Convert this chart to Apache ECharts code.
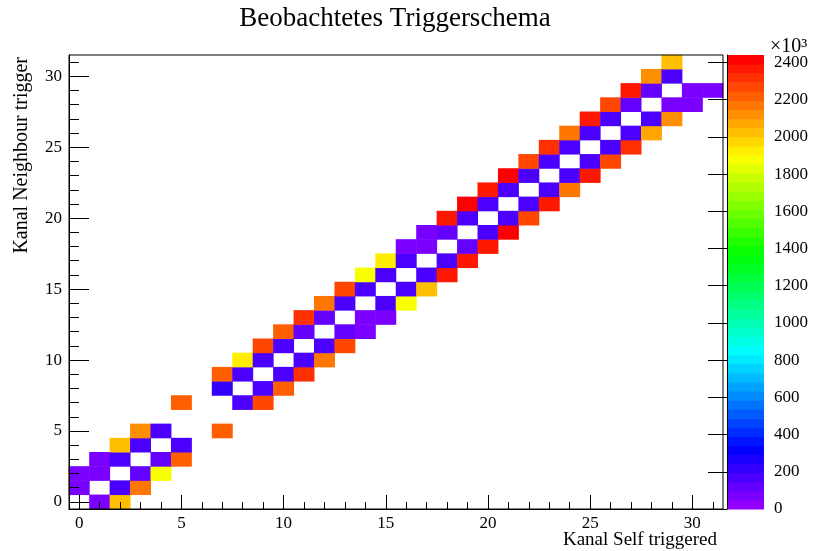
<!DOCTYPE html>
<html><head><meta charset="utf-8">
<script src="https://cdn.jsdelivr.net/npm/echarts@6/dist/echarts.min.js"></script>
<style>html,body{margin:0;padding:0;background:#fff}#c{width:813px;height:551px}</style>
</head><body><div id="c"></div>
<script>
// ---- data ----
const xCategories = ['0','1','2','3','4','5','6','7','8','9','10','11','12','13','14','15','16','17','18','19','20','21','22','23','24','25','26','27','28','29','30','31'];
const yCategories = ['0','1','2','3','4','5','6','7','8','9','10','11','12','13','14','15','16','17','18','19','20','21','22','23','24','25','26','27','28','29','30','31'];
const xTickLabels = ['0','5','10','15','20','25','30'];
const yTickLabels = ['0','5','10','15','20','25','30'];
const zTickValues = [0,200,400,600,800,1000,1200,1400,1600,1800,2000,2200,2400];
const zMax = 2440;
// [Kanal Self triggered, Kanal Neighbour trigger, counts (x10^3)]
const cells = [
  [1,0,73],[2,0,2025],
  [0,1,73],[2,1,150],[3,1,2150],
  [0,2,73],[1,2,73],[3,2,110],[4,2,1880],
  [1,3,73],[2,3,171],[4,3,120],[5,3,2230],
  [2,4,2025],[3,4,190],[5,4,190],
  [3,5,2123],[4,5,190],[7,5,2230],
  [5,7,2230],[8,7,190],[9,7,2270],
  [7,8,220],[9,8,190],[10,8,2230],
  [7,9,2230],[8,9,190],[10,9,190],[11,9,2318],
  [8,10,1928],[9,10,190],[11,10,190],[12,10,2172],
  [9,11,2260],[10,11,190],[12,11,190],[13,11,2260],
  [10,12,2230],[11,12,120],[13,12,120],[14,12,73],
  [11,13,2330],[12,13,120],[14,13,73],[15,13,73],
  [12,14,2172],[13,14,190],[15,14,190],[16,14,1880],
  [13,15,2260],[14,15,190],[16,15,190],[17,15,2025],
  [14,16,1880],[15,16,190],[17,16,190],[18,16,2390],
  [15,17,1950],[16,17,190],[18,17,190],[19,17,2370],
  [16,18,73],[17,18,73],[19,18,120],[20,18,2390],
  [17,19,73],[18,19,120],[20,19,190],[21,19,2420],
  [18,20,2360],[19,20,190],[21,20,190],[22,20,2290],
  [19,21,2420],[20,21,190],[22,21,190],[23,21,2350],
  [20,22,2390],[21,22,190],[23,22,190],[24,22,2180],
  [21,23,2420],[22,23,190],[24,23,190],[25,23,2390],
  [22,24,2290],[23,24,190],[25,24,190],[26,24,2260],
  [23,25,2330],[24,25,190],[26,25,190],[27,25,2330],
  [24,26,2180],[25,26,190],[27,26,190],[28,26,2070],
  [25,27,2370],[26,27,190],[28,27,190],[29,27,2120],
  [26,28,2290],[27,28,120],[29,28,73],[30,28,73],
  [27,29,2350],[28,29,120],[30,29,73],[31,29,73],
  [28,30,2120],[29,30,190],
  [29,31,2025]
];

// ---- style: ROOT "pretty" palette, 50 levels violet -> red ----
const NLEV = 50;
function hueToHex(h){
  let r,g,b;
  if(h<60){r=1;g=h/60;b=0;}else if(h<120){r=(120-h)/60;g=1;b=0;}
  else if(h<180){r=0;g=1;b=(h-120)/60;}else if(h<240){r=0;g=(240-h)/60;b=1;}
  else{r=(h-240)/60;g=0;b=1;}
  const f=v=>Math.round(v*255).toString(16).padStart(2,'0');
  return '#'+f(r)+f(g)+f(b);
}
const palette = [];
for(let k=0;k<NLEV;k++) palette.push(hueToHex(280-(k+1)*280/NLEV));
const lw = zMax/NLEV;
const pieces = palette.map((c,k)=> k<NLEV-1 ? {gte:k*lw, lt:(k+1)*lw, color:c} : {gte:k*lw, color:c});
const bands = palette.map((c,k)=>[k*lw,(k+1)*lw,k]);

const FONT = '"Liberation Serif", "DejaVu Serif", serif';
const black = '#000';
const chart = echarts.init(document.getElementById('c'), null, {renderer:'canvas'});
chart.setOption({
  animation:false,
  backgroundColor:'#fff',
  grid:[
    {left:69, top:55, width:654, height:454, show:true, borderColor:black, borderWidth:1, backgroundColor:'transparent', z:10},
    {left:727, top:55, width:37, height:454}
  ],
  xAxis:[
    {gridIndex:0, type:'category', data:xCategories, position:'bottom', z:10,
     axisLine:{lineStyle:{color:black,width:1}},
     axisTick:{show:true, alignWithLabel:true, inside:true, length:7, interval:0, lineStyle:{color:black}},
     axisLabel:{interval:(i,v)=>xTickLabels.indexOf(v)>=0, fontFamily:FONT, fontSize:17, color:black, margin:6},
     splitLine:{show:false}},
    {gridIndex:0, type:'category', data:xCategories, position:'bottom', z:10,
     axisLine:{show:false},
     axisTick:{show:true, alignWithLabel:true, inside:true, length:14, interval:(i,v)=>xTickLabels.indexOf(v)>=0, lineStyle:{color:black}},
     axisLabel:{show:false}, splitLine:{show:false}},
    {gridIndex:1, type:'value', min:0, max:1, show:false}
  ],
  yAxis:[
    {gridIndex:0, type:'category', data:yCategories, position:'left', z:10,
     axisLine:{lineStyle:{color:black,width:1}},
     axisTick:{show:true, alignWithLabel:true, inside:true, length:10, interval:0, lineStyle:{color:black}},
     axisLabel:{interval:(i,v)=>yTickLabels.indexOf(v)>=0, fontFamily:FONT, fontSize:17, color:black, margin:7},
     splitLine:{show:false}},
    {gridIndex:0, type:'category', data:yCategories, position:'left', z:10,
     axisLine:{show:false},
     axisTick:{show:true, alignWithLabel:true, inside:true, length:20, interval:(i,v)=>yTickLabels.indexOf(v)>=0, lineStyle:{color:black}},
     axisLabel:{show:false}, splitLine:{show:false}},
    {gridIndex:1, type:'value', min:0, max:zMax, position:'right', z:10,
     axisLine:{show:true, lineStyle:{color:black,width:1}},
     axisTick:{show:true, inside:true, length:19, customValues:zTickValues, lineStyle:{color:black}},
     axisLabel:{customValues:zTickValues, formatter:v=>String(v), fontFamily:FONT, fontSize:17, color:black, margin:10},
     splitLine:{show:false}}
  ],
  visualMap:{type:'piecewise', show:false, seriesIndex:0, dimension:2, pieces:pieces},
  series:[
    {type:'heatmap', xAxisIndex:0, yAxisIndex:0, data:cells, itemStyle:{borderWidth:0}, emphasis:{disabled:true}, progressive:0},
    {type:'custom', xAxisIndex:2, yAxisIndex:2, data:bands, silent:true,
     renderItem:function(params, api){
       const p0 = api.coord([0, api.value(0)]);
       const p1 = api.coord([1, api.value(1)]);
       return {type:'rect', shape:{x:p0[0], y:p1[1], width:p1[0]-p0[0], height:p0[1]-p1[1]+0.6},
               style:{fill:palette[api.value(2)]}};
     }}
  ],
  graphic:[
    {type:'text', x:395, y:19, style:{text:'Beobachtetes Triggerschema', font:'27px "Liberation Serif"', fill:black, align:'center', verticalAlign:'middle'}},
    {type:'text', x:717, y:540, style:{text:'Kanal Self triggered', font:'19px "Liberation Serif"', fill:black, align:'right', verticalAlign:'middle'}},
    {type:'text', x:22, y:57, rotation:Math.PI/2, style:{text:'Kanal Neighbour trigger', font:'20px "Liberation Serif"', fill:black, align:'right', verticalAlign:'middle'}},
    {type:'text', x:770, y:47, style:{text:'\u00d710\u00b3', font:'20px "Liberation Serif"', fill:black, align:'left', verticalAlign:'middle'}}
  ]
});
</script>
</body></html>
